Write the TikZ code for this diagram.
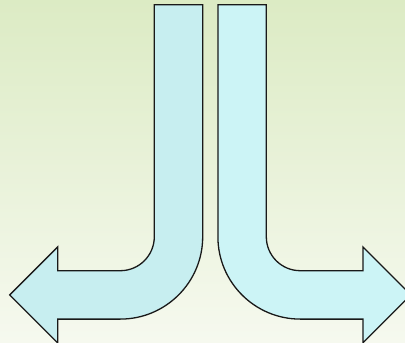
\documentclass[tikz,border=0pt]{standalone}
\definecolor{bgtop}{HTML}{DCEBC4}
\definecolor{bgbot}{HTML}{F6F9EF}
\definecolor{leftfill}{HTML}{C7EEF0}
\definecolor{rightfill}{HTML}{CCF4F6}
\tikzset{arrowshape/.style={draw=black!90,line width=1.3pt,line join=miter}}
\begin{document}
\begin{tikzpicture}[x=1pt,y=-1pt]
\useasboundingbox (0,0) rectangle (405,343);
\clip (0,0) rectangle (405,343);
\shade[top color=bgtop,bottom color=bgbot] (0,0) rectangle (405,343);
% left arrow (J shape, pointing left)
\path[arrowshape,fill=leftfill] (154.3,4.7) -- (202.7,4.7) -- (202.7,236.7)
  .. controls (202.7,282.2) and (165.8,319.1) .. (120.3,319.1)
  -- (57.7,319.1) -- (57.7,342.9) -- (9.7,294.9) -- (57.7,246.9) -- (57.7,270.7)
  -- (120.3,270.7) .. controls (139.1,270.7) and (154.3,255.5) .. (154.3,236.7) -- cycle;
% right arrow (L shape, pointing right)
\path[arrowshape,fill=rightfill] (266.3,4.7) -- (217.9,4.7) -- (217.9,236.7)
  .. controls (217.9,282.2) and (254.8,319.1) .. (300.3,319.1)
  -- (362.9,319.1) -- (362.9,342.9) -- (410.9,294.9) -- (362.9,246.9) -- (362.9,270.7)
  -- (300.3,270.7) .. controls (281.5,270.7) and (266.3,255.5) .. (266.3,236.7) -- cycle;
\end{tikzpicture}
\end{document}
